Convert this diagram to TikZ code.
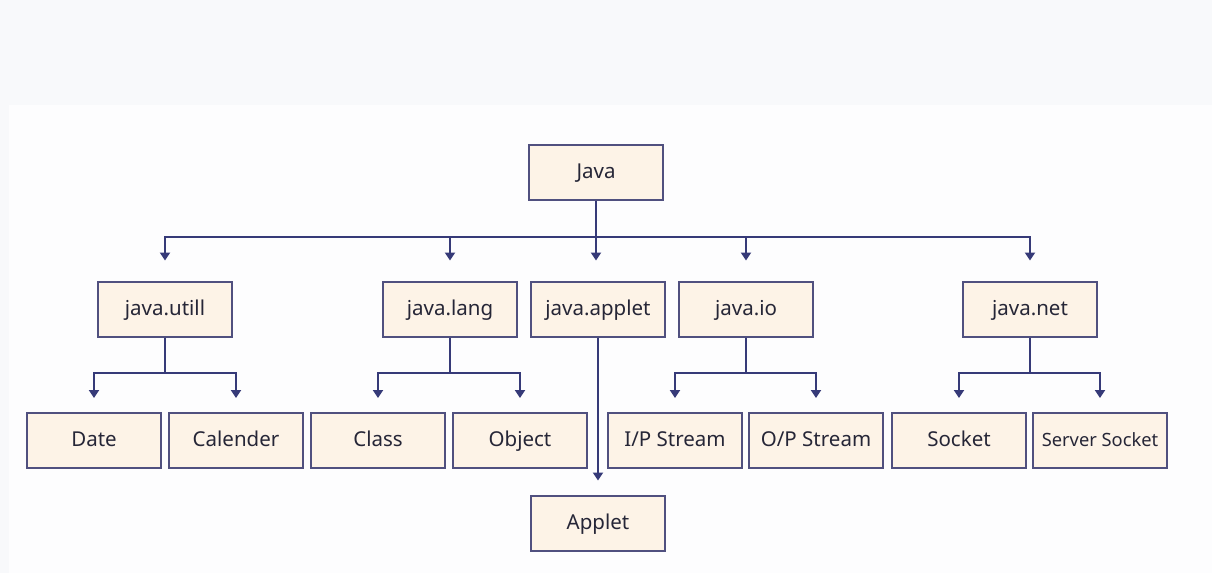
\documentclass[tikz,border=0pt]{standalone}
\usepackage{fontspec}
\setmainfont{Noto Sans}
\usetikzlibrary{arrows.meta}
\definecolor{bgtop}{HTML}{F8F9FB}
\definecolor{bgmain}{HTML}{FDFDFE}
\definecolor{boxfill}{HTML}{FDF3E7}
\definecolor{boxline}{HTML}{50507F}
\definecolor{conn}{HTML}{363A78}
\definecolor{txt}{HTML}{262637}
\tikzset{
  pkg/.style={draw=boxline, line width=2pt, fill=boxfill, text=txt,
    minimum width=134pt, minimum height=55pt, inner sep=0pt,
    text height=15.8pt, text depth=3pt,
    font=\fontsize{20.5}{24}\selectfont},
  conline/.style={draw=conn, line width=2pt},
  arr/.style={conline, -{Triangle[width=10pt,length=8pt]}},
}
\begin{document}
\begin{tikzpicture}[x=1pt,y=-1pt]
\fill[bgtop] (0,0) rectangle (1212,573);
\fill[bgmain] (9,105) rectangle (1212,573);
\useasboundingbox (0,0) rectangle (1212,573);

\coordinate (busy) at (0,237);
\coordinate (sub) at (0,373);

\node[pkg] (java) at (596,172.5) {Java};

\node[pkg] (utill)  at (165,309) {java.utill};
\node[pkg] (lang)   at (450,309) {java.lang};
\node[pkg] (applet) at (598,309) {java.applet};
\node[pkg] (io)     at (746,309) {java.io};
\node[pkg] (net)    at (1030,309) {java.net};

\node[pkg] (date)   at (94,440.5) {Date};
\node[pkg] (cal)    at (236,440.5) {Calender};
\node[pkg] (class)  at (378,440.5) {Class};
\node[pkg] (object) at (520,440.5) {Object};
\node[pkg] (ips)    at (675,440.5) {I/P Stream};
\node[pkg] (ops)    at (816,440.5) {O/P Stream};
\node[pkg] (socket) at (959,440.5) {Socket};
\node[pkg] (ssock)  at (1100,440.5) {\fontsize{18.3}{22}\selectfont Server Socket};

\node[pkg] (appletb) at (598,523) {Applet};

% level 1 -> level 2
\foreach \c in {utill,lang,io,net}{
  \draw[arr, shorten >=20pt] (java.south) |- (\c.north |- busy) -- (\c.north);
}
\draw[arr, shorten >=20pt] (java.south) -- (java.south |- applet.north);

% level 2 -> level 3
\foreach \p/\a/\b in {utill/date/cal, lang/class/object, io/ips/ops, net/socket/ssock}{
  \draw[arr, shorten >=14pt] (\p.south) |- (\a.north |- sub) -- (\a.north);
  \draw[arr, shorten >=14pt] (\p.south) |- (\b.north |- sub) -- (\b.north);
}
\draw[arr, shorten >=14pt] (applet.south) -- (appletb.north);
\end{tikzpicture}
\end{document}
